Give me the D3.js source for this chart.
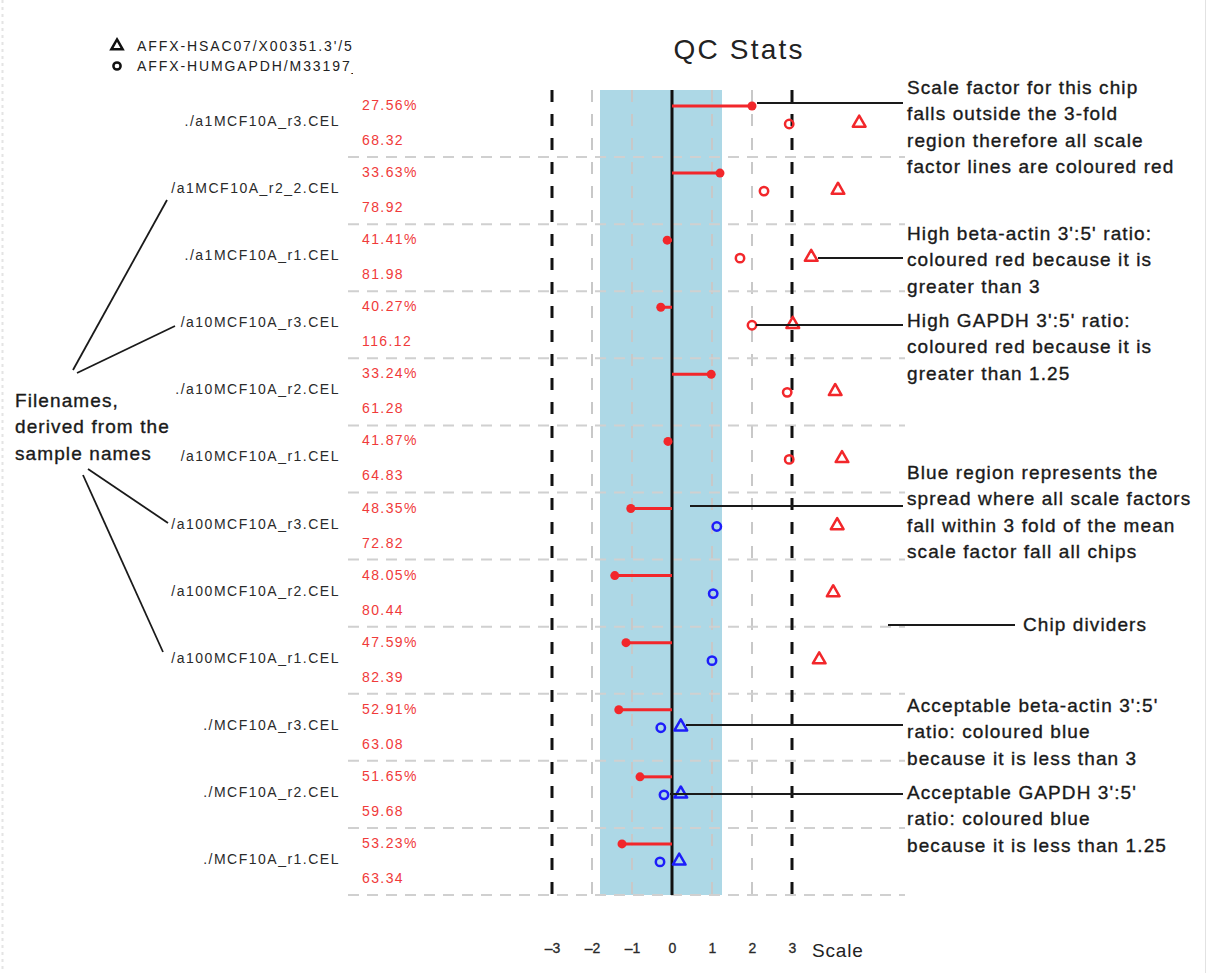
<!DOCTYPE html>
<html>
<head>
<meta charset="utf-8">
<script src="https://cdn.jsdelivr.net/npm/d3@7"></script>
<style>
  html, body { margin: 0; padding: 0; background: #fff; }
  svg { display: block; font-family: "Liberation Sans", Arial, Helvetica, sans-serif; }
</style>
</head>
<body>
<svg id="chart" width="1210" height="973"></svg>
<script>
// Chip filenames, top to bottom
const samples = [
  "./a1MCF10A_r3.CEL", "/a1MCF10A_r2_2.CEL", "./a1MCF10A_r1.CEL",
  "/a10MCF10A_r3.CEL", "./a10MCF10A_r2.CEL", "/a10MCF10A_r1.CEL",
  "/a100MCF10A_r3.CEL", "/a100MCF10A_r2.CEL", "/a100MCF10A_r1.CEL",
  "./MCF10A_r3.CEL", "./MCF10A_r2.CEL", "./MCF10A_r1.CEL"
];
// Percent present calls
const percentPresent = [27.56, 33.63, 41.41, 40.27, 33.24, 41.87, 48.35, 48.05, 47.59, 52.91, 51.65, 53.23];
// Average background
const avgBackground = [68.32, 78.92, 81.98, 116.12, 61.28, 64.83, 72.82, 80.44, 82.39, 63.08, 59.68, 63.34];
// log2 scale factors
const scaleFactors = [2.0, 1.2, -0.12, -0.28, 0.98, -0.1, -1.03, -1.43, -1.15, -1.33, -0.8, -1.25];
// GAPDH 3':5' ratios (circles)
const gapdhRatio = [2.93, 2.3, 1.7, 2.0, 2.88, 2.93, 1.12, 1.03, 1.0, -0.28, -0.2, -0.3];
// beta-actin 3':5' ratios (triangles)
const actinRatio = [4.68, 4.15, 3.48, 3.02, 4.08, 4.25, 4.13, 4.03, 3.68, 0.22, 0.22, 0.18];
// spread of acceptable scale factors
const sfRange = [-1.8, 1.25];
const gapdhLimit = 1.25;
const actinLimit = 3;
const xTicks = [-3, -2, -1, 0, 1, 2, 3];
const legendLabels = ["AFFX-HSAC07/X00351.3'/5'", "AFFX-HUMGAPDH/M33197_3'/5'"];

const RED = "#f2272b", BLUE = "#1d1dfa", REDTXT = "#f03a3a";

const svg = d3.select("#chart");
const W = 1210, H = 973;
svg.append("rect").attr("width", W).attr("height", H).attr("fill", "#fff");
// page edges
svg.append("line").attr("x1", 1205.5).attr("x2", 1205.5).attr("y1", 0).attr("y2", H)
  .attr("stroke", "#e2e2e2").attr("stroke-width", 1);
svg.append("line").attr("x1", 2.5).attr("x2", 2.5).attr("y1", 0).attr("y2", H)
  .attr("stroke", "#e4e4e4").attr("stroke-width", 2).attr("stroke-dasharray", "3,4");

const x = d3.scaleLinear().domain([-3, 3]).range([552, 792]);
const plotTop = 90, plotBottom = 895;
const y = d3.scaleBand().domain(samples).range([plotTop, plotBottom]).padding(0);
const bw = y.bandwidth();

// blue spread region
svg.append("rect")
  .attr("x", x(sfRange[0])).attr("y", plotTop)
  .attr("width", x(sfRange[1]) - x(sfRange[0])).attr("height", plotBottom - plotTop)
  .attr("fill", "#add8e6");

// grey vertical guides
svg.append("g").selectAll("line").data([-2, -1, 1, 2]).join("line")
  .attr("x1", d => x(d)).attr("x2", d => x(d)).attr("y1", plotTop).attr("y2", plotBottom)
  .attr("stroke", "#c8c8c8").attr("stroke-width", 2).attr("stroke-dasharray", "12,12");

// chip dividers
svg.append("g").selectAll("line").data(samples).join("line")
  .attr("x1", 348).attr("x2", 905)
  .attr("y1", d => y(d) + bw).attr("y2", d => y(d) + bw)
  .attr("stroke", "#d0d0d0").attr("stroke-width", 2).attr("stroke-dasharray", "11,8");

// 3-fold limits
svg.append("g").selectAll("line").data([-3, 3]).join("line")
  .attr("x1", d => x(d)).attr("x2", d => x(d)).attr("y1", plotTop).attr("y2", plotBottom)
  .attr("stroke", "#111").attr("stroke-width", 3).attr("stroke-dasharray", "12,12");

// zero line
svg.append("line").attr("x1", x(0)).attr("x2", x(0)).attr("y1", plotTop).attr("y2", plotBottom)
  .attr("stroke", "#111").attr("stroke-width", 3);

// row labels
svg.append("g").selectAll("text").data(samples).join("text")
  .attr("x", 340).attr("y", d => y(d) + 31)
  .attr("text-anchor", "end").attr("dominant-baseline", "central")
  .attr("font-size", 14).attr("letter-spacing", 1.5).attr("fill", "#2a2a2a").text(d => d);

// percent present and background labels
const lab = svg.append("g").attr("font-size", 14).attr("letter-spacing", 1.4).attr("fill", REDTXT);
lab.selectAll("text.pp").data(samples).join("text").attr("class", "pp")
  .attr("x", 362).attr("y", d => y(d) + 15).attr("dominant-baseline", "central")
  .text((d, i) => percentPresent[i].toFixed(2) + "%");
lab.selectAll("text.bg").data(samples).join("text").attr("class", "bg")
  .attr("x", 362).attr("y", d => y(d) + 50).attr("dominant-baseline", "central")
  .text((d, i) => avgBackground[i].toFixed(2));

// scale factor lines
const sf = svg.append("g");
sf.selectAll("line").data(samples).join("line")
  .attr("x1", x(0)).attr("x2", (d, i) => x(scaleFactors[i]))
  .attr("y1", d => y(d) + 16).attr("y2", d => y(d) + 16)
  .attr("stroke", RED).attr("stroke-width", 3);
sf.selectAll("circle").data(samples).join("circle")
  .attr("cx", (d, i) => x(scaleFactors[i])).attr("cy", d => y(d) + 16).attr("r", 4.5)
  .attr("fill", RED);

// GAPDH circles
svg.append("g").selectAll("circle").data(samples).join("circle")
  .attr("cx", (d, i) => x(gapdhRatio[i])).attr("cy", d => y(d) + 34).attr("r", 4.2)
  .attr("fill", "none").attr("stroke-width", 2.5)
  .attr("stroke", (d, i) => gapdhRatio[i] > gapdhLimit ? RED : BLUE);

// beta-actin triangles
const tri = d3.symbol().type(d3.symbolTriangle).size(70);
svg.append("g").selectAll("path").data(samples).join("path")
  .attr("d", tri)
  .attr("transform", (d, i) => `translate(${x(actinRatio[i])},${y(d) + 33})`)
  .attr("fill", "none").attr("stroke-width", 2.5).attr("stroke-linejoin", "round")
  .attr("stroke", (d, i) => actinRatio[i] > actinLimit ? RED : BLUE);

// x axis
const axis = d3.axisBottom(x).tickValues(xTicks).tickSize(0).tickPadding(0)
  .tickFormat(d => d < 0 ? "\u2013" + Math.abs(d) : String(d));
const gx = svg.append("g").attr("transform", "translate(0,943)").call(axis);
gx.select(".domain").remove();
gx.selectAll("text").attr("font-size", 14).attr("fill", "#2a2a2a")
  .attr("stroke", "#2a2a2a").attr("stroke-width", 0.3)
  .attr("font-family", "Liberation Sans, Arial, sans-serif");
svg.append("text").attr("x", 812).attr("y", 957).attr("font-size", 19).attr("letter-spacing", 0.8)
  .attr("fill", "#222").text("Scale");

// title
svg.append("text").attr("x", 739).attr("y", 59).attr("text-anchor", "middle")
  .attr("font-size", 28).attr("letter-spacing", 2.2).attr("fill", "#222").text("QC Stats");

// legend (clipped at the plot margin)
svg.append("clipPath").attr("id", "legclip").append("rect")
  .attr("x", 100).attr("y", 30).attr("width", 253).attr("height", 50);
const leg = svg.append("g").attr("clip-path", "url(#legclip)");
leg.append("path").attr("d", d3.symbol().type(d3.symbolTriangle).size(55))
  .attr("transform", "translate(117,46)").attr("fill", "none").attr("stroke", "#111").attr("stroke-width", 2.5);
leg.append("circle").attr("cx", 117).attr("cy", 66).attr("r", 3.6)
  .attr("fill", "none").attr("stroke", "#111").attr("stroke-width", 2.5);
leg.selectAll("text").data(legendLabels).join("text")
  .attr("x", 137).attr("y", (d, i) => 46 + i * 20)
  .attr("dominant-baseline", "central").attr("font-size", 14).attr("letter-spacing", 1.9)
  .attr("fill", "#222").text(d => d);

// annotations
const notes = [
  { lines: ["Scale factor for this chip", "falls outside the 3-fold", "region therefore all scale", "factor lines are coloured red"], y: 87, x: 907 },
  { lines: ["High beta-actin 3':5' ratio:", "coloured red because it is", "greater than 3"], y: 233, x: 907 },
  { lines: ["High GAPDH 3':5' ratio:", "coloured red because it is", "greater than 1.25"], y: 320, x: 907 },
  { lines: ["Blue region represents the", "spread where all scale factors", "fall within 3 fold of the mean", "scale factor fall all chips"], y: 472, x: 907 },
  { lines: ["Chip dividers"], y: 624, x: 1023 },
  { lines: ["Acceptable beta-actin 3':5'", "ratio: coloured blue", "because it is less than 3"], y: 705, x: 907 },
  { lines: ["Acceptable GAPDH 3':5'", "ratio: coloured blue", "because it is less than 1.25"], y: 792, x: 907 },
  { lines: ["Filenames,", "derived from the", "sample names"], y: 400, x: 15 }
];
const ng = svg.append("g").attr("font-size", 19).attr("letter-spacing", 1.1)
  .attr("fill", "#1a1a1a").attr("stroke", "#1a1a1a").attr("stroke-width", 0.35);
notes.forEach(n => {
  const t = ng.append("text").attr("x", n.x).attr("y", n.y).attr("dominant-baseline", "central");
  n.lines.forEach((l, k) => t.append("tspan").attr("x", n.x).attr("dy", k === 0 ? 0 : 26.3).text(l));
});

// pointer lines
const pointers = [
  [757, 103, 903, 103],
  [818, 258, 903, 258],
  [756, 325, 903, 325],
  [690, 506, 903, 506],
  [888, 625, 1015, 625],
  [686, 725, 903, 725],
  [670, 794, 903, 794],
  [73, 370, 167, 200],
  [77, 373, 175, 326],
  [88, 469, 168, 523],
  [83, 475, 163, 652]
];
svg.append("g").selectAll("line").data(pointers).join("line")
  .attr("x1", d => d[0]).attr("y1", d => d[1]).attr("x2", d => d[2]).attr("y2", d => d[3])
  .attr("stroke", "#1a1a1a").attr("stroke-width", 1.8);
</script>
</body>
</html>
